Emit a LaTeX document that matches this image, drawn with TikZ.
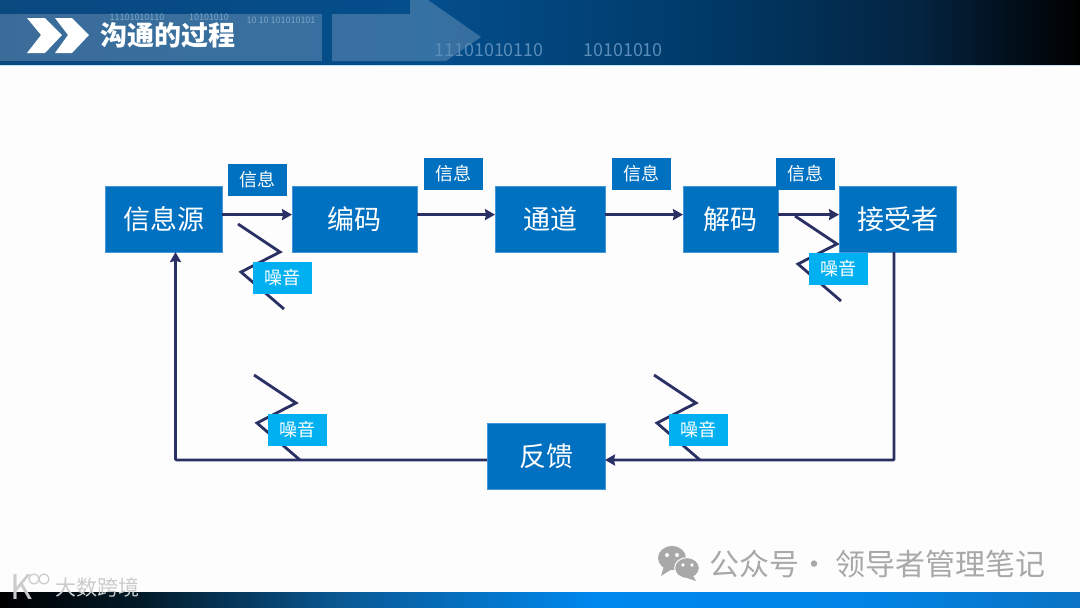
\documentclass[tikz,border=0pt]{standalone}
\usepackage{fontspec}
\setmainfont{Noto Sans CJK SC}
\usepackage{xcolor}
\usetikzlibrary{positioning,arrows.meta}
\definecolor{cmblue}{RGB}{0,112,192}
\definecolor{cmedge}{RGB}{70,150,215}
\definecolor{cmsky}{RGB}{0,176,240}
\definecolor{cmnavy}{RGB}{42,48,100}
\definecolor{cmpaper}{RGB}{253,253,253}
\definecolor{cmdigit}{RGB}{88,140,185}
\definecolor{cmfaint}{RGB}{125,165,200}
\definecolor{cmmark}{RGB}{168,168,168}
\definecolor{cmrule}{RGB}{190,228,245}
\definecolor{headA}{RGB}{10,72,128}
\definecolor{headB}{RGB}{4,78,140}
\definecolor{headC}{RGB}{0,58,104}
\definecolor{headD}{RGB}{4,36,64}
\definecolor{footA}{RGB}{2,26,40}
\definecolor{footB}{RGB}{10,90,150}
\definecolor{footC}{RGB}{0,136,238}
\definecolor{footD}{RGB}{0,132,230}
\definecolor{footE}{RGB}{10,115,195}
\pgfdeclarehorizontalshading{cmhead}{100bp}{
  color(0bp)=(headA); color(25bp)=(headA); color(45bp)=(headB); color(57.5bp)=(headC);
  color(67.5bp)=(headD); color(75bp)=(black); color(100bp)=(black)}
\pgfdeclarehorizontalshading{cmfoot}{100bp}{
  color(0bp)=(black); color(25bp)=(black); color(31.5bp)=(footA); color(41bp)=(footB);
  color(52.5bp)=(footC); color(65bp)=(footD); color(75bp)=(footE); color(100bp)=(footE)}
\tikzset{
  proc/.style={draw=cmedge, line width=0.3pt, fill=cmblue, text=white, outer sep=0pt,
               inner sep=0pt, minimum height=33pt, font=\fontsize{13.5}{16}\selectfont},
  msg/.style={fill=cmblue, text=white, outer sep=0pt, inner sep=0pt,
              minimum width=29.5pt, minimum height=16pt, font=\fontsize{9}{11}\selectfont},
  noise/.style={msg, fill=cmsky},
  flow/.style={-{Stealth[length=5pt,width=5.5pt,inset=0.5pt]}, line width=1.4pt, color=cmnavy},
  digit/.style={text=cmdigit, inner sep=0pt, font=\fontsize{9}{11}\selectfont},
  tiny digit/.style={digit, text=cmfaint, font=\fontsize{4.5}{5}\selectfont},
  wmark/.style={text=cmmark, inner sep=0pt, anchor=west},
  noisezig/.pic={\draw[line width=1.4pt, color=cmnavy, line join=miter]
    (0,0) -- (42,28) -- (3,48) -- (46,85);},
}
\begin{document}
\begin{tikzpicture}[x=0.5pt,y=-0.5pt]
\useasboundingbox (0,0) rectangle (1080,607);
\fill[cmpaper] (0,0) rectangle (1080,607);
\shade[shading=cmhead] (0,0) rectangle (1080,65);
\fill[cmrule] (0,65) rectangle (1080,66);
\fill[white, opacity=0.2] (0,14) rectangle (322,61);
\fill[white, opacity=0.2] (332,14) -- (410,14) -- (410,0) -- (428,0) -- (481,37) -- (446,61) -- (332,61) -- cycle;
\node[tiny digit] (bin1) at (137,17) {11101010110};
\node[tiny digit] (bin2) at (209,17) {10101010};
\node[tiny digit] (bin3) at (281,20) {10 10 101010101};
\node[digit] (bin4) at (489,50) {11101010110};
\node[digit] (bin5) at (623,50) {10101010};
\fill[white] (27,18) -- (45,18) -- (62,35) -- (45,53) -- (27,53) -- (41,35) -- cycle;
\fill[white] (55,18) -- (72,18) -- (89,35) -- (72,53) -- (55,53) -- (68,35) -- cycle;
\node[text=white, inner sep=0pt, anchor=west, font=\fontsize{13.5}{16}\selectfont\bfseries] (title) at (100,35) {沟通的过程};
\shade[shading=cmfoot] (0,592) rectangle (1080,607);

\path (238,224) pic {noisezig};
\path (795,216) pic {noisezig};
\path (254,375) pic {noisezig};
\path (654,375) pic {noisezig};

\node[proc, minimum width=58.5pt] (src) at (163.5,219) {信息源};
\node[proc, minimum width=62.5pt, right=35pt of src] (enc) {编码};
\node[proc, minimum width=55pt, right=39pt of enc] (chan) {通道};
\node[proc, minimum width=47.5pt, right=39pt of chan] (dec) {解码};
\node[proc, minimum width=58.5pt, right=30.5pt of dec] (recv) {接受者};
\node[proc, minimum width=59pt] (fb) at (546,456) {反馈};

\node[msg, above right=-5pt and 3pt of src] (msg1) {信息};
\node[msg, above right=-2pt and 3.5pt of enc] (msg2) {信息};
\node[msg, above right=-2pt and 3.5pt of chan] (msg3) {信息};
\node[msg, above right=-2pt and -1pt of dec] (msg4) {信息};
\node[noise] (noise1) at (282,278) {噪音};
\node[noise] (noise2) at (838.5,268.5) {噪音};
\node[noise] (noise3) at (297.5,430) {噪音};
\node[noise] (noise4) at (698,430) {噪音};

\draw[flow] ([yshift=2.2pt]src.east) -- ([yshift=2.2pt]enc.west);
\draw[flow] ([yshift=2.2pt]enc.east) -- ([yshift=2.2pt]chan.west);
\draw[flow] ([yshift=2.2pt]chan.east) -- ([yshift=2.2pt]dec.west);
\draw[flow] ([yshift=2.2pt]dec.east) -- ([yshift=2.2pt]recv.west);
\draw[flow, rounded corners=0.5pt] ([xshift=-1.75pt]recv.south) |- ([yshift=-2pt]fb.east);
\draw[flow, rounded corners=0.5pt] ([yshift=-2pt]fb.west) -| ([xshift=6pt]src.south);

\fill[cmmark] (672,558) ellipse (7pt and 6pt);
\fill[cmmark] (664,566) -- (661,576) -- (672,569) -- cycle;
\draw[cmpaper, line width=0.5pt, fill=cmmark] (687,568) ellipse (6.2pt and 5.2pt);
\fill[cmmark] (692,574) -- (696,581) -- (684,577) -- cycle;
\fill[cmpaper] (667,555) circle (1pt) (677,555) circle (1pt) (683,565) circle (0.9pt) (692,565) circle (0.9pt);
\node[wmark, font=\fontsize{15}{18}\selectfont] (wx) at (709,564) {公众号·\hspace{3pt}领导者管理笔记};
\node[wmark, text=gray!40, font=\fontsize{10.5}{13}\selectfont] (site) at (55,587) {大数跨境};
\node[wmark, text=gray!40, font=\fontsize{17}{19}\selectfont] (logo) at (10,587) {K};
\draw[gray!40, line width=0.6pt] (34,579) circle (2.5pt);
\draw[gray!40, line width=0.6pt] (44,579) circle (2.5pt);
\end{tikzpicture}
\end{document}
